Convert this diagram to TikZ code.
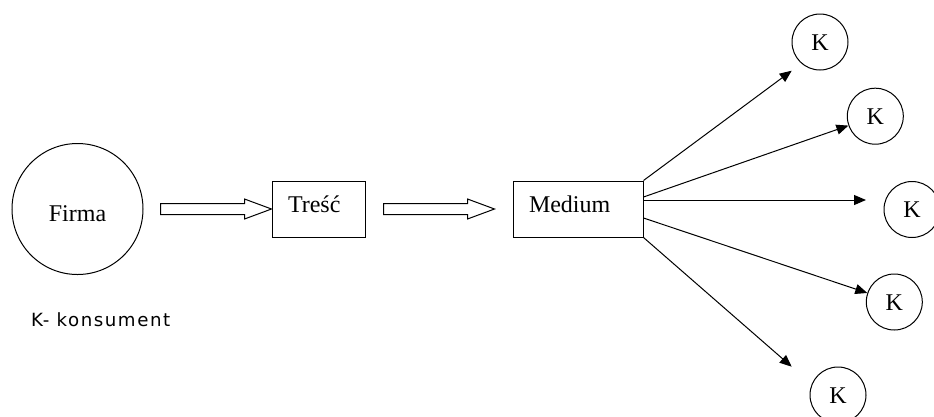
\documentclass[tikz,border=0pt]{standalone}
\usepackage{fontspec}
\setmainfont{Liberation Serif}
\newfontfamily\ksans[LetterSpace=8.5]{DejaVu Sans}
\usetikzlibrary{arrows.meta,calc}
\begin{document}
\begin{tikzpicture}[x=1pt,y=-1pt,
  every node/.style={font=\fontsize{24}{28}\selectfont},
  firmnode/.style={circle,draw,line width=1pt,minimum size=131pt,inner sep=0pt,text height=25.4pt,text depth=0pt},
  kons/.style={circle,draw,line width=1pt,minimum size=56pt,inner sep=0pt,text height=16pt,text depth=0pt},
  boxnode/.style={rectangle,draw,line width=1pt,inner xsep=16pt,inner ysep=0pt,text height=31pt,text depth=25pt,align=left},
  flow/.style={line width=1pt,-{Triangle[length=12pt,width=10pt]}},
  hollow/.pic={\draw[line width=1pt] (0,-5.5) -- (84,-5.5) -- (84,-10) -- (111,0) -- (84,10) -- (84,5.5) -- (0,5.5) -- cycle;}
]
\useasboundingbox (0,0) rectangle (934,416);
\node[firmnode] (firma) at (77.5,209) {Firma};
\node[boxnode,text width=61pt] (tresc) at (318.5,209) {Treść};
\node[boxnode,text width=98pt] (medium) at (578,209) {Medium};
\node[kons] (k1) at (820,42) {K};
\node[kons] (k2) at (875.3,116.2) {K};
\node[kons] (k3) at (912,209.5) {K};
\node[kons] (k4) at (894.3,302) {K};
\node[kons] (k5) at (838,395) {K};
\node[anchor=base west,inner sep=0pt,font=\ksans\fontsize{18.2}{20}\selectfont] (legend) at (31,326.7) {K- konsument};
\coordinate (t1) at (791.7,70.7);
\coordinate (t3) at (866,200);
\coordinate (t5) at (791.7,366.7);
\pic at ([xshift=17pt]firma.east) {hollow};
\pic at ([xshift=18pt]tresc.east) {hollow};
\draw[flow] (medium.north east) -- (t1);
\draw[flow] ([yshift=12pt]medium.east) -- (k2);
\draw[flow] ([yshift=9pt]medium.east) -- (t3);
\draw[flow] ([yshift=-9pt]medium.east) -- (k4);
\draw[flow] (medium.south east) -- (t5);
\end{tikzpicture}
\end{document}
